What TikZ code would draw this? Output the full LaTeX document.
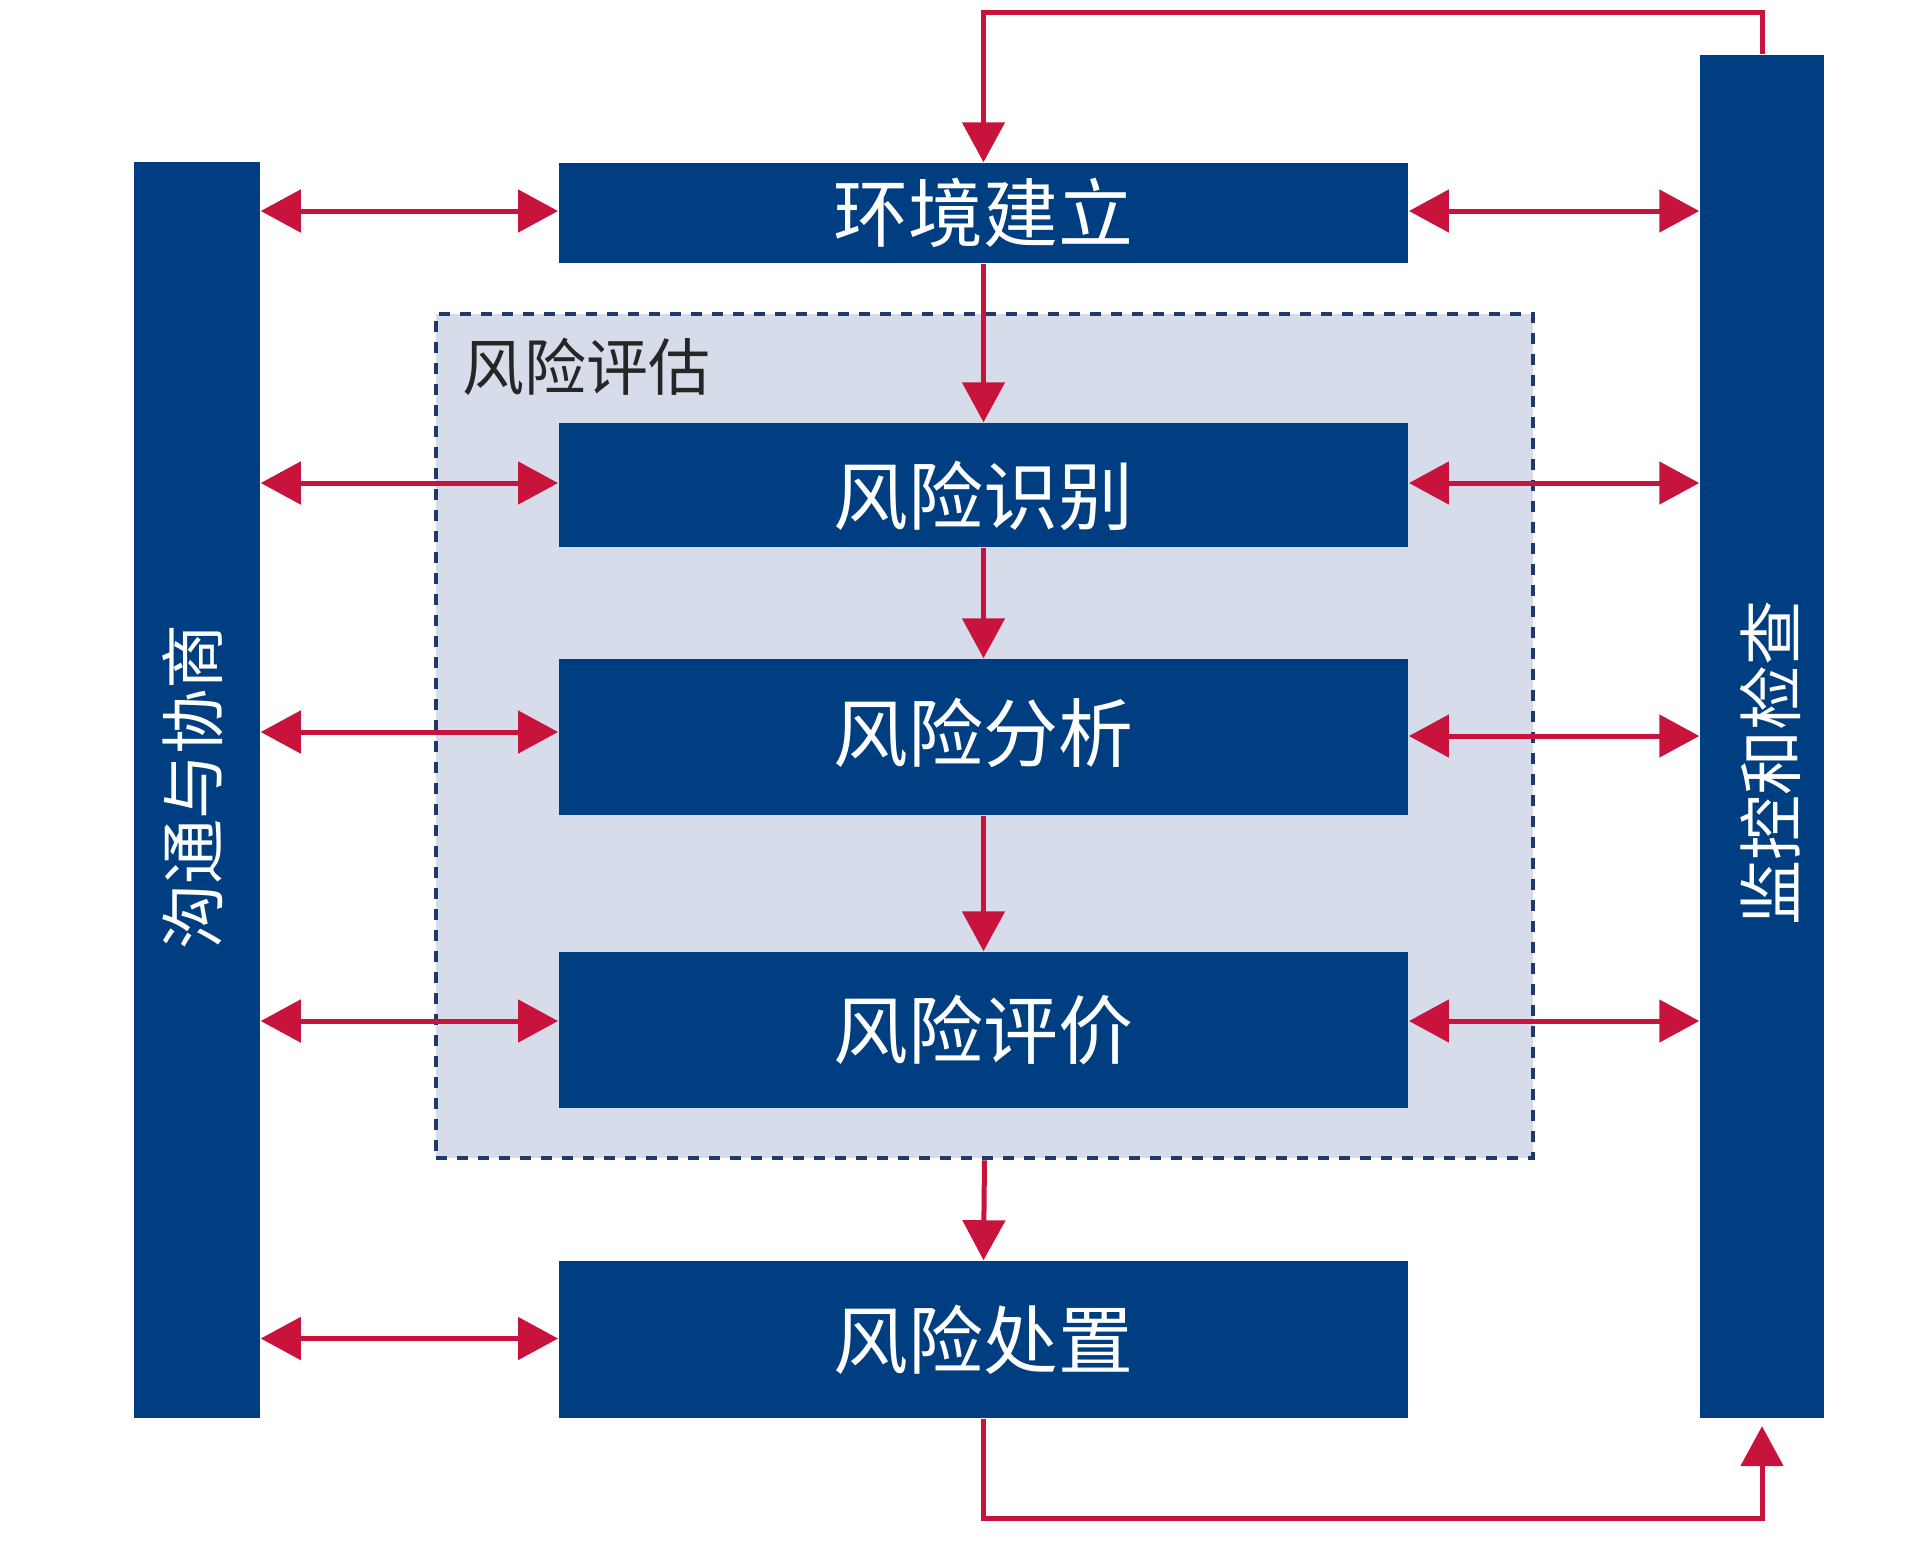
\documentclass[tikz,border=0pt]{standalone}
\usepackage{fontspec}
\newfontfamily\cjk{Noto Sans CJK SC}
\usetikzlibrary{arrows.meta}
\definecolor{navy}{HTML}{003E82}
\definecolor{flowred}{HTML}{C8143C}
\definecolor{zonefill}{HTML}{D6DCE9}
\definecolor{zoneline}{HTML}{1F3A66}
% move a label up or down without changing its box
\newcommand{\nudge}[2]{\raisebox{#1}[\height][\depth]{#2}}
\begin{document}
\begin{tikzpicture}[x=0.01cm,y=-0.01cm,
  stagebox/.style={fill=navy,draw=none,inner sep=0pt,minimum width=8.49cm,
    text=white,font=\cjk\fontsize{21.3}{24}\selectfont},
  sidebar/.style={fill=navy,draw=none,inner sep=0pt,text=white,
    font=\cjk\fontsize{18.5}{21}\selectfont},
  flow/.style={draw=flowred,line width=0.05cm,
    -{Triangle[length=0.40cm,width=0.42cm]}},
  biflow/.style={draw=flowred,line width=0.05cm,
    {Triangle[length=0.40cm,width=0.42cm]}-{Triangle[length=0.40cm,width=0.42cm]}}]
\useasboundingbox (0,0) rectangle (1911,1556);
\fill[white] (0,0) rectangle (1911,1556);

% risk assessment zone
\node[fill=zonefill,draw=zoneline,line width=0.04cm,dash pattern=on 0.11cm off 0.1cm,
  minimum width=10.97cm,minimum height=8.44cm,inner sep=0pt] (zone) at (984.5,736) {};
\node[anchor=west,inner sep=0pt,text=black!85,font=\cjk\fontsize{17.6}{20}\selectfont]
  (zonelabel) at (462,367) {风险评估};

% side bars
\node[sidebar,minimum width=1.26cm,minimum height=12.56cm] (lbar) at (197,790) {};
\node[rotate=90,text=white,font=\cjk\fontsize{18.5}{21}\selectfont,inner sep=0pt]
  (ltext) at (193,787) {沟通与协商};
\node[sidebar,minimum width=1.24cm,minimum height=13.63cm] (rbar) at (1762,736.5) {};
\node[rotate=90,text=white,font=\cjk\fontsize{18.5}{21}\selectfont,inner sep=0pt]
  (rtext) at (1771,763) {监控和检查};

% process stages
\node[stagebox,minimum height=1.00cm] (env) at (983.5,213) {环境建立};
\node[stagebox,minimum height=1.24cm] (ident) at (983.5,485) {\nudge{-0.11cm}{风险识别}};
\node[stagebox,minimum height=1.56cm] (anal) at (983.5,737) {\nudge{0.04cm}{风险分析}};
\node[stagebox,minimum height=1.56cm] (eval) at (983.5,1030) {风险评价};
\node[stagebox,minimum height=1.57cm] (treat) at (983.5,1339.5) {风险处置};

% main flow
\draw[flow] (env.south) -- (ident.north);
\draw[flow] (ident.south) -- (anal.north);
\draw[flow] (anal.south) -- (eval.north);
\draw[flow] (zone.south) -- (treat.north);

% feedback loops
\coordinate (toprow) at (0,12);
\coordinate (botrow) at (0,1518);
\draw[flow] (rbar.north) |- (env.north |- toprow) -- (env.north);
\draw[flow,shorten >=0.07cm] (treat.south) |- (rbar.south |- botrow) -- (rbar.south);

% exchange with the communication bar
\foreach \n/\dy in {env/2,ident/2,anal/5,eval/9,treat/1}{
  \draw[biflow] ([yshift=\dy*0.01cm]\n.west) -- ([yshift=\dy*0.01cm]\n.west -| lbar.east);
}
% exchange with the monitoring bar
\foreach \n/\dy in {env/2,ident/2,anal/1,eval/9}{
  \draw[biflow] ([yshift=\dy*0.01cm]\n.east) -- ([yshift=\dy*0.01cm]\n.east -| rbar.west);
}
\end{tikzpicture}
\end{document}
